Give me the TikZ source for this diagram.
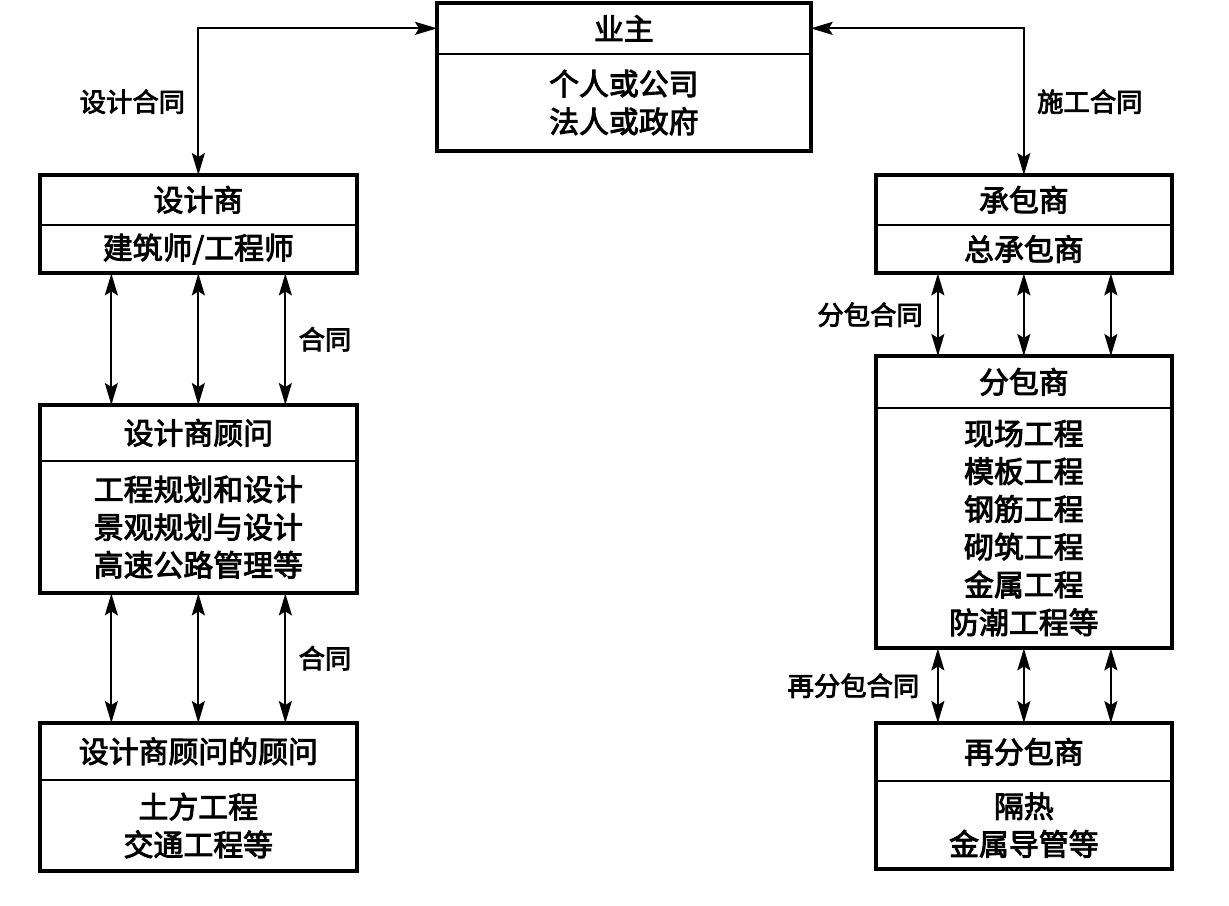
\documentclass[tikz,border=0pt]{standalone}
\usepackage{fontspec}
\newfontfamily\cjk[FakeBold=3]{Noto Sans CJK SC}
\usetikzlibrary{arrows.meta,positioning}
\begin{document}
\begin{tikzpicture}[x=0.2mm, y=-0.2mm,
    head/.style={anchor=north west, inner sep=0pt, align=center, font=\cjk\fontsize{17}{21.5}\selectfont},
    body/.style={inner sep=0pt, align=center, font=\cjk\fontsize{17}{21.5}\selectfont},
    frame/.style={line width=2.2pt},
    split/.style={line width=1.1pt},
    link/.style={line width=1.1pt, {Stealth[length=4.4mm,width=2.6mm,inset=0.8mm]}-{Stealth[length=4.4mm,width=2.6mm,inset=0.8mm]}},
    lab/.style={inner sep=0pt, font=\cjk\fontsize{15}{18}\selectfont}]
  \useasboundingbox (0,0) rectangle (1229,905);
  % Owner
  \node[head, minimum width=7.46cm, minimum height=1.0cm] (owner) at (437,3) {业主};
  \node[body, minimum width=7.46cm, minimum height=1.94cm, below=0pt of owner] (ownerb) {个人或公司\\法人或政府};
  \draw[split] (owner.south west) -- (owner.south east);
  \draw[frame] (owner.north west) rectangle (ownerb.south east);
  % Designer
  \node[head, minimum width=6.32cm, minimum height=0.98cm] (des) at (40,175) {设计商};
  \node[body, minimum width=6.32cm, minimum height=0.96cm, below=0pt of des] (desb) {建筑师/工程师};
  \draw[split] (des.south west) -- (des.south east);
  \draw[frame] (des.north west) rectangle (desb.south east);
  % Designer consultant
  \node[head, minimum width=6.32cm, minimum height=1.1cm] (cons) at (40,405) {设计商顾问};
  \node[body, minimum width=6.32cm, minimum height=2.64cm, below=0pt of cons] (consb) {工程规划和设计\\景观规划与设计\\高速公路管理等};
  \draw[split] (cons.south west) -- (cons.south east);
  \draw[frame] (cons.north west) rectangle (consb.south east);
  % Consultant of consultant
  \node[head, minimum width=6.32cm, minimum height=1.12cm] (subcons) at (40,723) {设计商顾问的顾问};
  \node[body, minimum width=6.32cm, minimum height=1.82cm, below=0pt of subcons] (subconsb) {土方工程\\交通工程等};
  \draw[split] (subcons.south west) -- (subcons.south east);
  \draw[frame] (subcons.north west) rectangle (subconsb.south east);
  % Contractor
  \node[head, minimum width=5.9cm, minimum height=0.98cm] (con) at (876,175) {承包商};
  \node[body, minimum width=5.9cm, minimum height=0.96cm, below=0pt of con] (conb) {总承包商};
  \draw[split] (con.south west) -- (con.south east);
  \draw[frame] (con.north west) rectangle (conb.south east);
  % Subcontractor
  \node[head, minimum width=5.9cm, minimum height=1.02cm] (sub) at (876,356) {分包商};
  \node[body, minimum width=5.9cm, minimum height=4.8cm, below=0pt of sub] (subb) {现场工程\\模板工程\\钢筋工程\\砌筑工程\\金属工程\\防潮工程等};
  \draw[split] (sub.south west) -- (sub.south east);
  \draw[frame] (sub.north west) rectangle (subb.south east);
  % Sub-subcontractor
  \node[head, minimum width=5.9cm, minimum height=1.14cm] (resub) at (876,723) {再分包商};
  \node[body, minimum width=5.9cm, minimum height=1.76cm, below=0pt of resub] (resubb) {隔热\\金属导管等};
  \draw[split] (resub.south west) -- (resub.south east);
  \draw[frame] (resub.north west) rectangle (resubb.south east);
  % Contracts with owner
  \draw[link] (owner.west) -| (des.north) node[lab, pos=0.75, left=7pt] {设计合同};
  \draw[link] (owner.east) -| (con.north) node[lab, pos=0.75, right=7pt] {施工合同};
  % Left chain
  \foreach \dx in {-1.74,0} {
    \draw[link] ([xshift=\dx cm]desb.south) -- ([xshift=\dx cm]cons.north);
    \draw[link] ([xshift=\dx cm]consb.south) -- ([xshift=\dx cm]subcons.north);
  }
  \draw[link] ([xshift=1.74cm]desb.south) -- ([xshift=1.74cm]cons.north) node[lab, midway, right=7pt] {合同};
  \draw[link] ([xshift=1.74cm]consb.south) -- ([xshift=1.74cm]subcons.north) node[lab, midway, right=7pt] {合同};
  % Right chain
  \foreach \dx in {0,1.74} {
    \draw[link] ([xshift=\dx cm]conb.south) -- ([xshift=\dx cm]sub.north);
    \draw[link] ([xshift=\dx cm]subb.south) -- ([xshift=\dx cm]resub.north);
  }
  \draw[link] ([xshift=-1.72cm]conb.south) -- ([xshift=-1.72cm]sub.north) node[lab, midway, left=8pt] {分包合同};
  \draw[link] ([xshift=-1.72cm]subb.south) -- ([xshift=-1.72cm]resub.north) node[lab, midway, left=10pt] {再分包合同};
\end{tikzpicture}
\end{document}
